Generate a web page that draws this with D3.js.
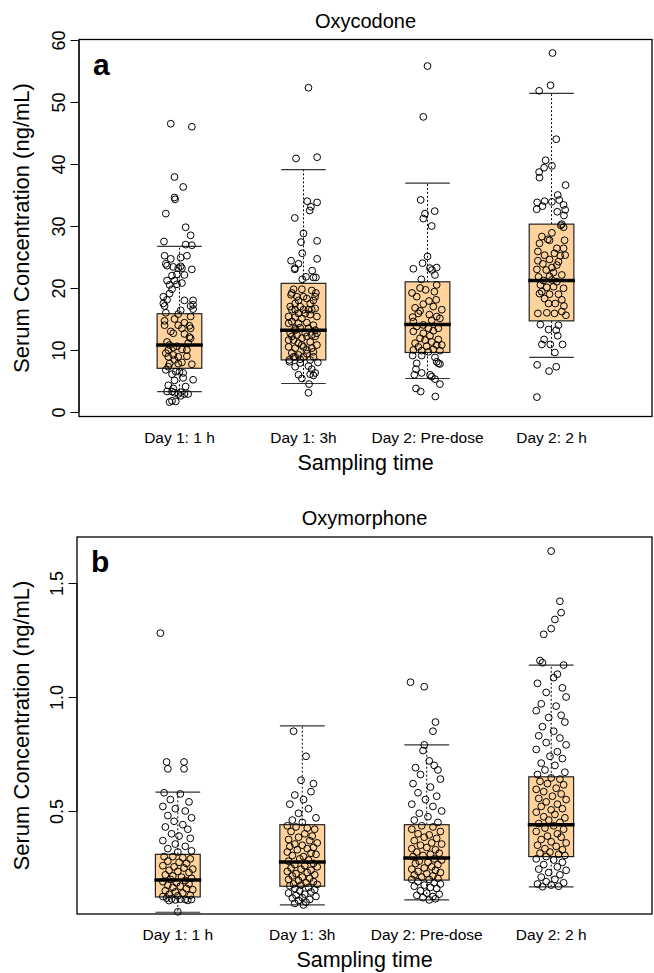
<!DOCTYPE html>
<html><head><meta charset="utf-8">
<script src="https://cdn.jsdelivr.net/npm/d3@7"></script>
<style>body{margin:0;background:#fff} svg{display:block} text{font-family:"Liberation Sans",Arial,sans-serif;fill:#000}</style>
</head><body><svg id="c" width="654" height="973"></svg>
<script>
const categories = ["Day 1: 1 h","Day 1: 3h","Day 2: Pre-dose","Day 2: 2 h"];

// Panel a: Oxycodone
const oxyTicks = [0,10,20,30,40,50,60];
const oxyQ1 = [7.05, 8.4, 9.6, 14.7];
const oxyMedian = [10.8, 13.2, 14.1, 21.2];
const oxyQ3 = [15.85, 20.75, 21.0, 30.3];
const oxyWhiskerLo = [3.3, 4.6, 5.4, 8.8];
const oxyWhiskerHi = [26.7, 39.1, 36.9, 51.4];
// points: [jitter (category units), value]
const oxyPoints1 = [[-0.07,46.5],[0.10,46.0],[-0.04,37.9],[0.03,36.3],[-0.04,34.6],[-0.035,34.3],[-0.11,32.0],[0.05,29.8],[0.09,28.5],[-0.125,27.5],[0.05,27.0],[0.10,26.9],[-0.12,25.2],[0.06,25.2],[-0.07,24.7],[0.01,24.9],[-0.11,23.9],[-0.10,23.6],[0.01,23.5],[-0.05,23.4],[-0.01,23.2],[0.02,23.2],[0.10,23.0],[-0.06,22.0],[-0.02,22.2],[0.04,22.1],[-0.10,21.2],[-0.04,21.2],[-0.08,20.5],[-0.02,20.6],[0.02,20.8],[-0.06,19.8],[-0.08,19.1],[-0.13,18.6],[-0.10,18.1],[-0.13,17.5],[-0.12,17.1],[0.04,18.0],[0.11,18.0],[0.11,17.3],[0.11,16.6],[0.09,17.1],[0.01,16.4],[-0.11,16.0],[-0.01,15.8],[0.09,15.4],[-0.12,14.7],[0.02,13.5],[-0.01,14.0],[0.08,13.9],[0.09,13.5],[-0.07,13.0],[-0.05,12.7],[0.04,12.6],[0.08,12.1],[0.09,11.9],[-0.10,11.3],[-0.08,10.8],[-0.05,10.4],[-0.02,10.6],[0.02,10.1],[0.06,10.0],[-0.11,9.5],[-0.05,9.2],[-0.01,8.9],[0.06,9.0],[-0.04,8.4],[0.02,8.0],[-0.08,7.8],[-0.01,7.8],[0.10,7.7],[-0.09,7.3],[-0.11,6.8],[-0.03,6.5],[0.00,6.5],[-0.06,6.1],[0.03,5.5],[0.11,5.2],[-0.04,5.1],[-0.09,4.3],[0.05,4.1],[-0.05,3.8],[-0.06,3.3],[0.01,3.2],[-0.01,2.9],[0.04,2.9],[0.07,2.9],[-0.04,3.1],[-0.08,1.6],[-0.06,1.8],[-0.03,1.7],[0.01,2.6],[-0.10,3.3],[0.03,6.3],[-0.09,8.9],[0.04,14.4],[-0.04,15.0],[-0.09,10.0],[0.07,11.1],[-0.12,14.0]];
const oxyPoints2 = [[0.04,52.3],[-0.06,40.9],[0.11,41.1],[0.03,34.0],[0.11,33.8],[0.06,33.1],[0.05,32.5],[-0.07,31.3],[0.00,28.8],[-0.02,27.4],[0.11,27.6],[-0.01,25.6],[0.11,24.7],[-0.10,24.4],[-0.04,23.9],[-0.07,23.2],[-0.07,23.0],[0.07,22.8],[0.02,21.8],[-0.01,21.4],[0.08,21.7],[0.10,21.7],[-0.08,19.8],[-0.013,19.8],[0.067,19.6],[0.10,19.2],[-0.10,18.9],[-0.053,18.6],[0.027,18.3],[0.094,18.6],[-0.067,17.5],[-0.027,17.0],[0.054,17.5],[-0.094,16.5],[0.0,16.5],[0.094,16.7],[-0.12,15.4],[-0.067,15.3],[-0.013,15.1],[0.054,15.7],[0.108,15.4],[-0.094,14.6],[-0.04,14.3],[0.027,14.4],[0.08,14.0],[-0.107,12.7],[-0.053,12.4],[0.014,12.8],[0.094,12.2],[-0.08,11.6],[-0.013,11.9],[0.054,11.3],[-0.12,10.5],[-0.067,10.3],[0.0,10.5],[0.067,10.3],[0.108,10.8],[-0.094,9.5],[-0.04,9.2],[0.027,9.4],[0.08,8.9],[-0.115,8.4],[-0.027,8.5],[0.054,8.4],[-0.08,8.9],[0.0,18.6],[-0.04,15.9],[0.04,13.5],[0.067,12.4],[-0.067,13.5],[-0.013,10.8],[0.027,10.0],[-0.094,19.2],[-0.04,18.0],[0.067,16.5],[0.014,15.9],[-0.12,14.3],[-0.067,13.2],[-0.027,13.6],[0.094,13.2],[-0.094,12.2],[0.027,12.2],[-0.04,11.1],[0.08,9.7],[-0.067,8.9],[0.0,8.9],[0.04,16.5],[0.08,18.0],[-0.107,17.0],[-0.067,16.5],[0.108,12.7],[-0.12,11.6],[-0.113,8.1],[-0.027,7.9],[-0.067,7.3],[0.04,7.4],[0.116,8.0],[0.067,6.9],[0.094,6.3],[0.08,5.9],[0.054,6.1],[-0.04,6.0],[-0.013,5.4],[0.045,4.5],[0.04,3.1]];
const oxyPoints3 = [[0.0,55.8],[-0.034,47.6],[-0.055,34.2],[0.058,32.4],[-0.02,32.0],[-0.034,31.2],[0.034,30.0],[0.0,25.1],[-0.04,24.0],[-0.114,23.1],[0.02,23.2],[0.036,22.9],[0.074,23.3],[0.06,22.1],[-0.05,21.4],[0.074,20.5],[-0.06,20.0],[-0.015,19.7],[-0.125,19.2],[0.055,19.4],[0.07,18.1],[0.012,17.9],[-0.034,17.4],[-0.10,16.8],[-0.06,16.3],[0.115,16.5],[-0.12,15.3],[0.015,15.7],[0.074,15.4],[0.10,15.1],[0.034,14.8],[-0.114,14.6],[-0.034,14.04],[-0.087,13.8],[0.007,13.5],[0.087,13.5],[-0.114,13.0],[0.047,13.1],[-0.034,12.7],[0.02,12.3],[-0.06,11.9],[0.087,11.7],[-0.10,11.1],[0.034,11.3],[0.074,10.8],[0.115,10.8],[-0.074,10.5],[-0.007,10.6],[-0.114,10.0],[-0.047,9.9],[0.047,10.1],[0.10,9.9],[-0.12,9.1],[-0.047,9.1],[0.06,8.8],[0.074,8.1],[0.087,7.85],[0.10,7.75],[-0.087,7.85],[-0.093,6.9],[-0.106,6.0],[-0.047,6.3],[0.02,6.0],[0.034,5.7],[0.06,5.3],[0.10,4.5],[-0.093,3.8],[-0.055,3.3],[0.063,2.5],[-0.02,11.6],[0.007,9.7],[-0.074,15.9],[0.047,17.0],[-0.087,18.6]];
const oxyPoints4 = [[0.008,57.9],[-0.008,52.7],[-0.10,51.8],[0.038,44.0],[-0.048,40.6],[0.003,39.7],[-0.06,39.4],[-0.10,38.7],[-0.097,37.8],[0.113,36.6],[0.05,35.0],[0.062,34.2],[-0.116,33.8],[-0.056,34.0],[0.003,33.9],[0.097,33.4],[-0.073,33.2],[-0.12,32.7],[0.11,32.6],[0.046,32.3],[0.10,31.7],[0.083,30.3],[0.075,30.1],[0.097,29.8],[0.003,28.9],[-0.078,28.3],[-0.03,27.85],[-0.016,27.7],[0.105,27.7],[-0.097,27.2],[0.043,26.4],[0.097,26.4],[-0.11,25.9],[0.024,25.6],[-0.056,25.3],[0.07,25.2],[0.11,25.3],[-0.016,24.6],[-0.11,24.4],[0.056,24.25],[-0.07,23.9],[0.003,23.3],[-0.118,23.0],[-0.043,22.9],[0.016,22.5],[-0.105,21.8],[-0.016,21.9],[0.083,22.1],[-0.065,21.2],[0.003,21.3],[0.043,21.0],[-0.09,20.5],[-0.038,20.1],[0.016,20.2],[0.097,19.95],[-0.097,19.1],[-0.016,19.0],[0.056,19.0],[-0.056,18.3],[0.083,18.1],[-0.024,17.5],[0.03,17.5],[0.10,17.1],[-0.11,15.9],[-0.038,16.0],[0.024,15.9],[0.083,16.2],[0.116,15.6],[-0.078,19.4],[0.043,23.7],[-0.09,14.1],[0.056,14.0],[-0.024,13.3],[0.038,13.2],[0.05,12.3],[-0.06,11.7],[-0.078,10.9],[-0.01,10.9],[0.089,10.9],[0.027,9.6],[-0.116,7.6],[0.038,7.3],[-0.02,6.6],[-0.118,2.4]];

// Panel b: Oxymorphone
const omTicks = [0.5,1.0,1.5];
const omTickLabels = ["0.5","1.0","1.5"];
const omQ1 = [0.123, 0.17, 0.197, 0.30];
const omMedian = [0.197, 0.276, 0.294, 0.44];
const omQ3 = [0.31, 0.44, 0.44, 0.65];
const omWhiskerLo = [0.056, 0.088, 0.11, 0.167];
const omWhiskerHi = [0.583, 0.873, 0.79, 1.14];
const omPoints1 = [[-0.14,1.28],[-0.09,0.715],[0.05,0.715],[-0.08,0.685],[0.05,0.685],[-0.11,0.58],[0.02,0.575],[-0.06,0.55],[0.09,0.54],[-0.12,0.52],[-0.02,0.51],[0.06,0.50],[-0.08,0.48],[0.11,0.47],[-0.03,0.455],[0.04,0.44],[-0.10,0.43],[0.08,0.42],[-0.05,0.40],[0.01,0.39],[0.10,0.38],[-0.12,0.37],[-0.02,0.355],[0.06,0.345],[-0.08,0.335],[0.11,0.325],[0.0,0.32],[-0.11,0.30],[-0.04,0.30],[0.04,0.295],[0.10,0.29],[-0.08,0.28],[0.01,0.275],[0.07,0.27],[-0.12,0.26],[-0.03,0.255],[0.05,0.25],[0.12,0.245],[-0.07,0.24],[0.0,0.235],[0.09,0.23],[-0.10,0.22],[-0.04,0.215],[0.03,0.21],[0.11,0.205],[-0.06,0.20],[0.06,0.195],[-0.12,0.19],[-0.01,0.185],[0.09,0.18],[-0.08,0.175],[0.02,0.17],[-0.04,0.165],[0.07,0.16],[0.12,0.155],[-0.10,0.15],[-0.02,0.145],[0.04,0.14],[-0.07,0.135],[0.10,0.13],[0.0,0.128],[-0.12,0.125],[-0.09,0.118],[-0.05,0.115],[0.02,0.113],[0.06,0.112],[0.11,0.112],[-0.02,0.11],[0.08,0.108],[-0.07,0.107],[0.0,0.058]];
const omPoints2 = [[-0.07,0.85],[0.03,0.74],[-0.01,0.635],[0.09,0.62],[0.07,0.585],[-0.06,0.57],[0.01,0.55],[-0.10,0.53],[0.05,0.51],[-0.03,0.49],[0.11,0.47],[-0.08,0.46],[0.0,0.45],[-0.12,0.435],[-0.05,0.43],[0.04,0.425],[0.10,0.42],[-0.09,0.41],[0.02,0.40],[0.08,0.39],[-0.03,0.385],[-0.11,0.375],[0.06,0.37],[0.12,0.36],[-0.06,0.355],[0.0,0.35],[-0.10,0.345],[0.09,0.34],[0.04,0.335],[-0.04,0.33],[-0.12,0.32],[0.07,0.315],[0.11,0.31],[-0.08,0.305],[0.01,0.30],[-0.02,0.29],[0.05,0.285],[-0.11,0.28],[0.09,0.27],[-0.06,0.265],[0.02,0.26],[0.12,0.255],[-0.09,0.25],[-0.01,0.245],[0.07,0.24],[-0.12,0.235],[0.04,0.23],[-0.05,0.225],[0.10,0.22],[-0.08,0.215],[0.0,0.21],[0.06,0.205],[-0.11,0.20],[-0.03,0.195],[0.09,0.19],[0.03,0.185],[-0.07,0.18],[0.12,0.178],[-0.01,0.175],[-0.10,0.172],[0.05,0.165],[-0.06,0.16],[0.10,0.155],[-0.02,0.15],[0.07,0.145],[-0.11,0.14],[0.02,0.135],[-0.05,0.13],[0.11,0.125],[0.0,0.12],[-0.08,0.118],[0.06,0.112],[-0.03,0.108],[0.03,0.10],[-0.06,0.095],[0.01,0.088]];
const omPoints3 = [[-0.13,1.065],[-0.02,1.045],[0.07,0.89],[0.05,0.85],[-0.02,0.79],[-0.03,0.765],[0.02,0.72],[-0.09,0.69],[0.06,0.70],[0.09,0.68],[-0.05,0.66],[0.11,0.64],[-0.11,0.62],[0.03,0.605],[-0.07,0.58],[0.08,0.565],[-0.01,0.55],[-0.12,0.53],[0.05,0.52],[0.12,0.50],[-0.06,0.49],[0.01,0.475],[-0.10,0.46],[0.09,0.45],[-0.04,0.435],[0.05,0.43],[-0.12,0.42],[0.11,0.41],[-0.07,0.40],[0.02,0.395],[-0.02,0.385],[0.08,0.38],[-0.10,0.37],[0.04,0.36],[0.12,0.355],[-0.05,0.35],[0.0,0.34],[-0.12,0.335],[0.07,0.33],[-0.08,0.32],[0.10,0.315],[0.03,0.31],[-0.03,0.305],[-0.11,0.30],[0.06,0.29],[0.12,0.285],[-0.06,0.28],[0.01,0.275],[-0.09,0.27],[0.09,0.265],[0.04,0.255],[-0.02,0.25],[-0.12,0.245],[0.07,0.24],[-0.07,0.235],[0.11,0.23],[0.0,0.225],[-0.10,0.22],[0.05,0.215],[-0.04,0.21],[0.09,0.205],[-0.12,0.20],[0.02,0.20],[-0.07,0.19],[0.06,0.185],[0.11,0.18],[-0.02,0.175],[-0.10,0.17],[0.03,0.165],[0.08,0.16],[-0.05,0.15],[0.0,0.14],[0.10,0.135],[-0.08,0.13],[0.05,0.125],[-0.03,0.12],[0.07,0.115],[0.02,0.11]];
const omPoints4 = [[0.0,1.64],[0.07,1.42],[0.08,1.37],[0.03,1.34],[0.0,1.30],[-0.06,1.275],[-0.09,1.16],[-0.07,1.15],[0.10,1.14],[0.05,1.10],[0.02,1.085],[-0.11,1.06],[0.09,1.04],[-0.04,1.02],[0.12,1.0],[-0.08,0.97],[0.04,0.96],[-0.12,0.94],[0.08,0.92],[-0.02,0.91],[0.11,0.89],[-0.07,0.87],[0.02,0.85],[-0.10,0.83],[0.07,0.82],[-0.04,0.80],[0.12,0.79],[-0.12,0.77],[0.05,0.76],[-0.01,0.74],[0.09,0.73],[-0.08,0.71],[0.03,0.70],[-0.05,0.68],[0.11,0.67],[-0.11,0.66],[0.0,0.645],[0.07,0.64],[-0.09,0.63],[-0.03,0.62],[0.10,0.615],[0.04,0.60],[-0.12,0.595],[-0.06,0.585],[0.08,0.575],[0.01,0.565],[-0.10,0.555],[0.12,0.55],[-0.04,0.54],[0.05,0.53],[-0.08,0.52],[0.09,0.51],[0.0,0.505],[-0.12,0.495],[0.03,0.485],[-0.06,0.475],[0.11,0.47],[-0.02,0.46],[0.07,0.45],[-0.10,0.445],[0.02,0.435],[-0.05,0.425],[0.10,0.42],[-0.12,0.41],[0.05,0.40],[-0.03,0.39],[0.08,0.385],[-0.08,0.375],[0.0,0.365],[0.12,0.36],[-0.11,0.35],[0.04,0.345],[-0.05,0.335],[0.09,0.33],[-0.01,0.32],[-0.09,0.315],[0.06,0.31],[0.11,0.305],[-0.04,0.30],[-0.12,0.29],[0.02,0.285],[0.09,0.275],[-0.06,0.265],[0.05,0.255],[-0.10,0.245],[0.12,0.24],[-0.02,0.23],[0.07,0.22],[-0.08,0.21],[0.03,0.20],[-0.04,0.19],[0.10,0.185],[-0.11,0.18],[0.0,0.175],[0.06,0.17],[-0.07,0.168]];

const svg = d3.select("#c");
const BOXFILL = "#FFD39B";
const FONT = '"Liberation Sans", Arial, sans-serif';

function panel(cfg) {
  const {left, right, top, bottom} = cfg.frame;
  const x = d3.scaleLinear().domain([0.19, 4.81]).range([left, right]);
  const y = d3.scaleLinear().domain(cfg.yDomain).range(cfg.yRange);
  const g = svg.append("g");
  const halfW = 0.18;

  // title
  g.append("text").attr("x", (left + right) / 2).attr("y", top - 12)
    .attr("text-anchor", "middle").attr("font-size", 20).text(cfg.title);
  // panel letter
  g.append("text").attr("x", left + 14).attr("y", top + 35)
    .attr("font-size", 30).attr("font-weight", "bold").text(cfg.letter);

  // y axis
  const ax = d3.axisLeft(y).tickValues(cfg.ticks).tickSize(8.5).tickPadding(4)
    .tickFormat((d, i) => cfg.tickLabels[i]);
  const ag = g.append("g").attr("transform", `translate(${left},0)`).call(ax);
  ag.select(".domain").attr("d", `M0,${y(cfg.ticks[0])}V${y(cfg.ticks[cfg.ticks.length-1])}`).attr("stroke", "#000");
  ag.selectAll(".tick line").attr("stroke", "#000");
  ag.selectAll(".tick text").attr("font-size", 18).attr("font-family", FONT)
    .attr("fill", "#000")
    .attr("x", 0).attr("y", 0).attr("dy", 0)
    .attr("text-anchor", "middle")
    .attr("transform", "translate(-14.5,0) rotate(-90)");

  // y label
  g.append("text").attr("transform", `translate(${cfg.ylabX},${(top + bottom) / 2}) rotate(-90)`)
    .attr("text-anchor", "middle").attr("font-size", 22).text("Serum Concentration (ng/mL)");

  // boxes
  categories.forEach((c, i) => {
    const cx = i + 1;
    g.append("line").attr("x1", x(cx)).attr("x2", x(cx))
      .attr("y1", y(cfg.q3[i])).attr("y2", y(cfg.wHi[i]))
      .attr("stroke", "#000").attr("stroke-dasharray", "2,2").attr("stroke-width", 1);
    g.append("line").attr("x1", x(cx)).attr("x2", x(cx))
      .attr("y1", y(cfg.q1[i])).attr("y2", y(cfg.wLo[i]))
      .attr("stroke", "#000").attr("stroke-dasharray", "2,2").attr("stroke-width", 1);
    [cfg.wHi[i], cfg.wLo[i]].forEach(v => {
      g.append("line").attr("x1", x(cx - halfW)).attr("x2", x(cx + halfW))
        .attr("y1", y(v)).attr("y2", y(v)).attr("stroke", "#333").attr("stroke-width", 1.2);
    });
    g.append("rect").attr("x", x(cx - halfW)).attr("width", x(cx + halfW) - x(cx - halfW))
      .attr("y", y(cfg.q3[i])).attr("height", y(cfg.q1[i]) - y(cfg.q3[i]))
      .attr("fill", BOXFILL).attr("stroke", "#222").attr("stroke-width", 1.2);
    g.append("line").attr("x1", x(cx - halfW) - 1).attr("x2", x(cx + halfW) + 1)
      .attr("y1", y(cfg.med[i])).attr("y2", y(cfg.med[i]))
      .attr("stroke", "#000").attr("stroke-width", 3.5);
    g.append("text").attr("x", x(cx)).attr("y", bottom + 26).attr("text-anchor", "middle")
      .attr("font-size", 15.5).text(c);
  });

  // points
  cfg.points.forEach((pts, i) => {
    g.selectAll(null).data(pts).enter().append("circle")
      .attr("cx", d => x(i + 1 + d[0])).attr("cy", d => y(d[1])).attr("r", 3.4)
      .attr("fill", "none").attr("stroke", "#000").attr("stroke-width", 1);
  });

  // frame
  g.append("rect").attr("x", left).attr("y", top).attr("width", right - left).attr("height", bottom - top)
    .attr("fill", "none").attr("stroke", "#000").attr("stroke-width", 1.3);

  // x label
  g.append("text").attr("x", (left + right) / 2).attr("y", bottom + 53).attr("text-anchor", "middle")
    .attr("font-size", 21.5).text("Sampling time");
}

panel({
  frame: {left: 79, right: 652, top: 39.5, bottom: 416.5},
  yDomain: [0, 60], yRange: [412, 40],
  ticks: oxyTicks, tickLabels: oxyTicks.map(String),
  title: "Oxycodone", letter: "a", ylabX: 29,
  q1: oxyQ1, med: oxyMedian, q3: oxyQ3, wLo: oxyWhiskerLo, wHi: oxyWhiskerHi,
  points: [oxyPoints1, oxyPoints2, oxyPoints3, oxyPoints4]
});
panel({
  frame: {left: 77, right: 652, top: 537, bottom: 914},
  yDomain: [0.5, 1.0], yRange: [811, 697],
  ticks: omTicks, tickLabels: omTickLabels,
  title: "Oxymorphone", letter: "b", ylabX: 29,
  q1: omQ1, med: omMedian, q3: omQ3, wLo: omWhiskerLo, wHi: omWhiskerHi,
  points: [omPoints1, omPoints2, omPoints3, omPoints4]
});
</script></body></html>
